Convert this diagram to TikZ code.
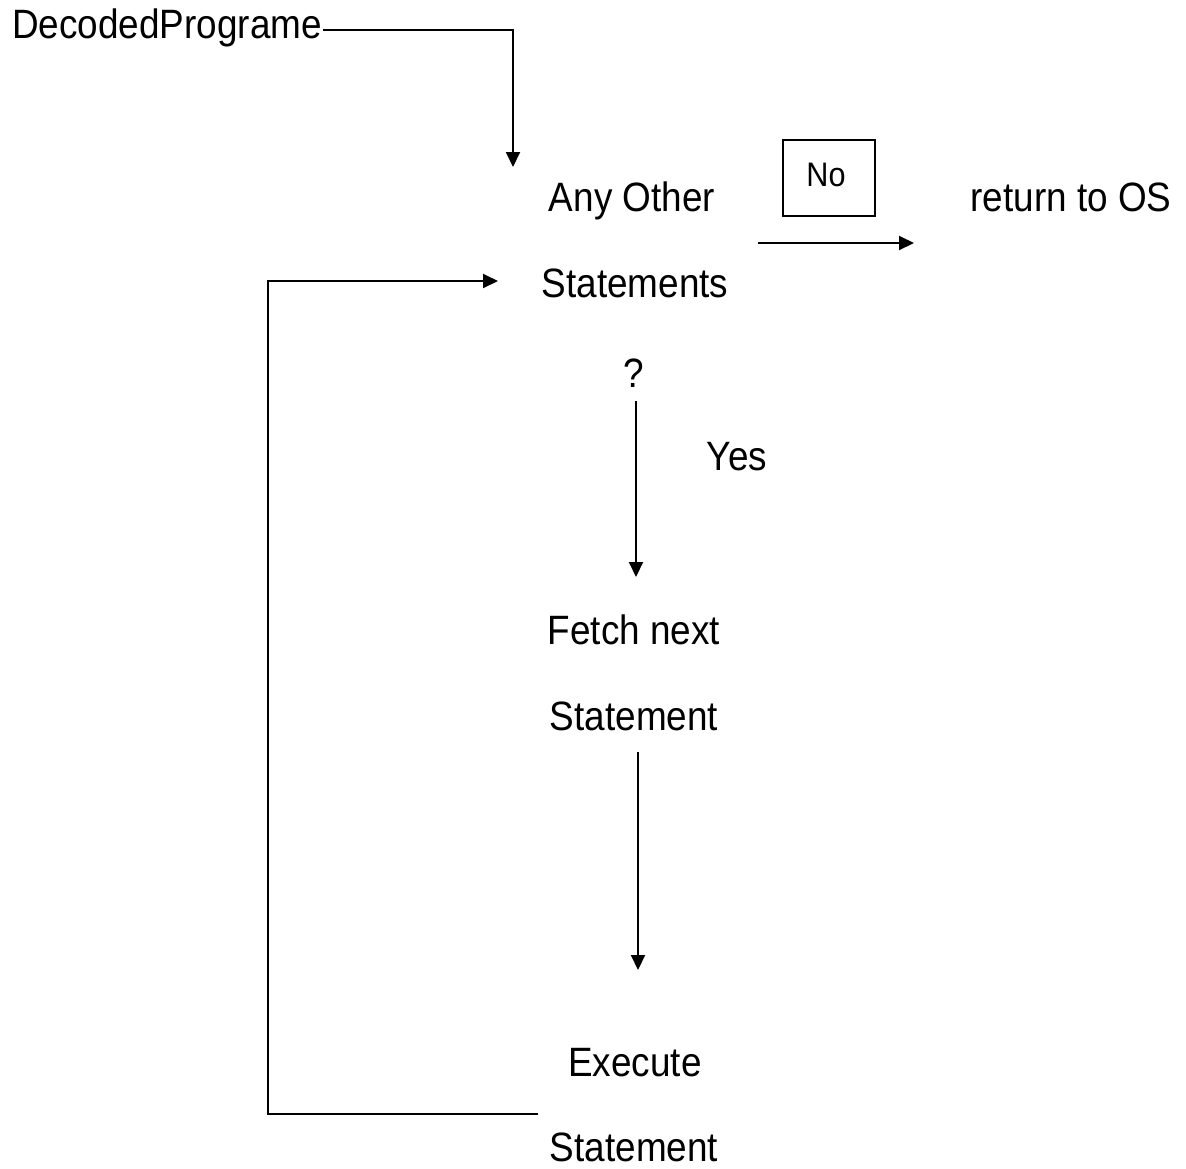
\documentclass[tikz,border=0pt]{standalone}
\usepackage{fontspec}
\setmainfont{Liberation Sans}[FakeStretch=0.9]
\usetikzlibrary{arrows.meta}
\begin{document}
\begin{tikzpicture}[x=1pt,y=-1pt,
  lbl/.style={inner sep=0pt,anchor=base,font=\fontsize{41}{44}\selectfont},
  small/.style={inner sep=0pt,anchor=base,font=\fontsize{34}{36}\selectfont},
  wire/.style={line width=2pt},
  flow/.style={wire,-{Triangle[length=15pt,width=14pt]}}]
\useasboundingbox (0,0) rectangle (1186,1168);

% labels
\node[lbl,anchor=base west] (dp) at (12,38) {DecodedPrograme};
\node[lbl] (any) at (632,211) {Any Other};
\node[lbl] (stmts) at (635,297) {Statements};
\node[lbl] (q) at (634,387) {?};
\node[lbl] (yes) at (737,470) {Yes};
\node[lbl] (fetch) at (634,644) {Fetch next};
\node[lbl] (fstmt) at (634,730) {Statement};
\node[lbl] (exec) at (635,1076) {Execute};
\node[lbl] (estmt) at (634,1161) {Statement};
\node[lbl] (os) at (1071,211) {return to OS};

% "No" box
\draw[line width=1.5pt] (783,140) rectangle (875,216);
\node[small] (no) at (826,186) {No};

% connector end points
\coordinate (dpEnd) at (323,30);
\coordinate (anyIn) at (513,167);
\coordinate (noFrom) at (758,243);
\coordinate (noTo) at (914,243);
\coordinate (qFrom) at (636,401);
\coordinate (qTo) at (636,577);
\coordinate (fFrom) at (638,752);
\coordinate (fTo) at (638,970);
\coordinate (eFrom) at (538,1114);
\coordinate (loopTo) at (498,281);

% connectors
\draw[flow] (dpEnd) -| (anyIn);
\draw[flow] (noFrom) -- (noTo);
\draw[flow] (qFrom) -- (qTo);
\draw[flow] (fFrom) -- (fTo);
\draw[flow] (eFrom) -- (268,1114) |- (loopTo);
\end{tikzpicture}
\end{document}
